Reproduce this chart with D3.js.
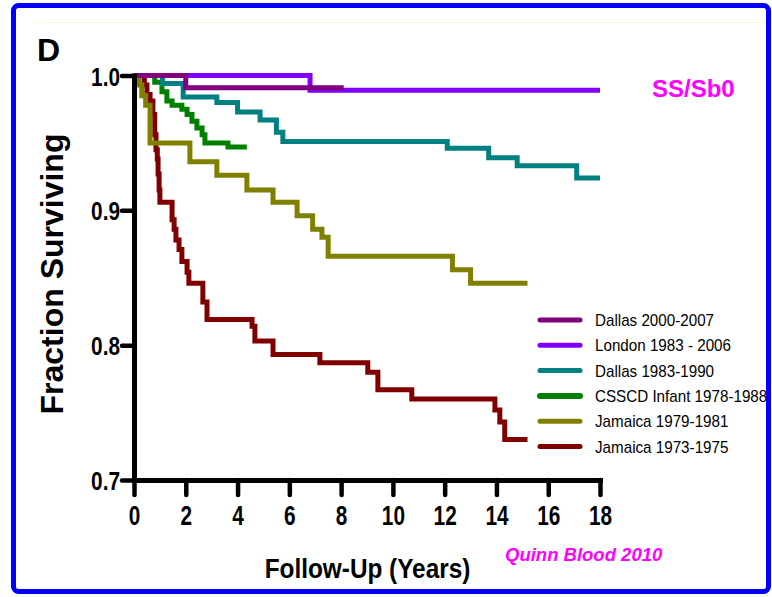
<!DOCTYPE html>
<html>
<head>
<meta charset="utf-8">
<script src="https://cdn.jsdelivr.net/npm/d3@7"></script>
<style>
  html, body { margin: 0; padding: 0; background: #fff; }
  svg { display: block; font-family: "Liberation Sans", Arial, sans-serif; }
</style>
</head>
<body>
<svg id="chart" width="772" height="597"></svg>
<script>
// ---- data (time in years, fraction surviving) ----
const xTickValues = [0, 2, 4, 6, 8, 10, 12, 14, 16, 18];
const yTickValues = [0.7, 0.8, 0.9, 1.0];

const dallas2000 = [[0, 1.0], [2.0, 0.991], [8.1, 0.991]];
const london = [[0, 1.0], [6.8, 0.989], [18, 0.989]];
const dallas1983 = [[0, 1.0], [1.1, 0.994], [1.9, 0.984], [3.2, 0.980], [4.0, 0.973], [4.87, 0.967],
  [5.5, 0.958], [5.75, 0.951], [12.1, 0.946], [13.7, 0.939], [14.8, 0.933], [17.1, 0.924], [18, 0.924]];
const csscd = [[0, 1.0], [0.8, 0.995], [1.08, 0.988], [1.27, 0.981], [1.47, 0.978], [1.85, 0.975],
  [2.05, 0.971], [2.24, 0.966], [2.43, 0.961], [2.63, 0.956], [2.74, 0.950], [3.63, 0.947], [4.36, 0.947]];
const jamaica79 = [[0, 1.0], [0.2, 0.993], [0.3, 0.985], [0.45, 0.978], [0.62, 0.950], [2.16, 0.936],
  [3.2, 0.926], [4.36, 0.915], [5.37, 0.906], [6.3, 0.896], [6.9, 0.886], [7.26, 0.880], [7.5, 0.866],
  [12.3, 0.856], [13.0, 0.846], [15.2, 0.846]];
const jamaica73 = [[0, 1.0], [0.4, 0.993], [0.5, 0.986], [0.62, 0.981], [0.73, 0.971], [0.8, 0.956],
  [0.85, 0.945], [0.9, 0.938], [0.93, 0.927], [0.97, 0.915], [1.0, 0.906], [1.47, 0.893], [1.55, 0.886],
  [1.62, 0.878], [1.74, 0.871], [1.85, 0.862], [2.05, 0.854], [2.12, 0.846], [2.66, 0.832], [2.82, 0.819],
  [4.56, 0.814], [4.67, 0.803], [5.37, 0.793], [7.18, 0.787], [9.03, 0.780], [9.42, 0.767], [10.73, 0.760],
  [13.94, 0.752], [14.13, 0.743], [14.32, 0.730], [15.2, 0.730]];

const seriesNames = ["Dallas 2000-2007", "London 1983 - 2006", "Dallas 1983-1990",
  "CSSCD Infant 1978-1988", "Jamaica 1979-1981", "Jamaica 1973-1975"];
const seriesColors = ["#800080", "#8000ff", "#008080", "#008000", "#808000", "#800000"];
const seriesData = [dallas2000, london, dallas1983, csscd, jamaica79, jamaica73];

// ---- drawing ----
const svg = d3.select("#chart");

// frame
svg.append("line").attr("x1", 35).attr("x2", 772).attr("y1", 22.5).attr("y2", 22.5)
  .attr("stroke", "#fbf6e2").attr("stroke-width", 1);
svg.append("rect").attr("x", 13.5).attr("y", 5.5).attr("width", 755).attr("height", 586)
  .attr("rx", 5).attr("fill", "none").attr("stroke", "#0000ff").attr("stroke-width", 5);

const x = d3.scaleLinear().domain([0, 18]).range([134, 600]);
const y = d3.scaleLinear().domain([0.7, 1.0]).range([480, 75.5]);

// curves (drawn bottom-most first)
const line = d3.line().x(d => x(d[0])).y(d => y(d[1])).curve(d3.curveStepAfter);
const order = [5, 4, 3, 2, 1, 0];
order.forEach(i => {
  svg.append("path").datum(seriesData[i])
    .attr("d", line)
    .attr("fill", "none")
    .attr("stroke", seriesColors[i])
    .attr("stroke-width", 5)
    .attr("stroke-linejoin", "miter");
});

// x axis
const xAxis = svg.append("g").attr("transform", "translate(0,480)")
  .call(d3.axisBottom(x).tickValues(xTickValues).tickSize(15).tickSizeOuter(0).tickFormat(d3.format("d")));
xAxis.select(".domain").attr("stroke", "#000").attr("stroke-width", 5).attr("stroke-linecap", "square");
xAxis.selectAll(".tick line").attr("stroke", "#000").attr("stroke-width", 4.5).attr("stroke-linecap", "round");
xAxis.selectAll(".tick text")
  .attr("y", 45).attr("dy", 0)
  .attr("fill", "#000")
  .style("font-size", "27px").style("font-weight", "bold")
  .attr("transform", "scale(0.77,1)");

// y axis
const yAxis = svg.append("g").attr("transform", "translate(134,0)")
  .call(d3.axisLeft(y).tickValues(yTickValues).tickSize(12).tickSizeOuter(0).tickFormat(d3.format(".1f")));
yAxis.select(".domain").attr("stroke", "#000").attr("stroke-width", 5).attr("stroke-linecap", "square");
yAxis.selectAll(".tick line").attr("stroke", "#000").attr("stroke-width", 4.5).attr("stroke-linecap", "round");
yAxis.selectAll(".tick text")
  .attr("x", -17.5).attr("y", 9.5).attr("dy", 0)
  .attr("fill", "#000")
  .style("font-size", "26px").style("font-weight", "bold")
  .attr("transform", "scale(0.8,1)");

// titles
svg.append("text").attr("x", 37).attr("y", 61).text("D")
  .style("font-size", "32px").style("font-weight", "bold").attr("fill", "#000");

svg.append("text").attr("transform", "translate(63,274) rotate(-90)")
  .attr("text-anchor", "middle").text("Fraction Surviving")
  .style("font-size", "32px").style("font-weight", "bold").attr("fill", "#000");

svg.append("text").attr("transform", "translate(367.5,578) scale(0.87,1)")
  .attr("text-anchor", "middle").text("Follow-Up (Years)")
  .style("font-size", "28px").style("font-weight", "bold").attr("fill", "#000");

svg.append("text").attr("x", 652).attr("y", 97).text("SS/Sb0")
  .style("font-size", "24px").style("font-weight", "bold").attr("fill", "#ff00ff");

svg.append("text").attr("x", 505).attr("y", 561).text("Quinn Blood 2010")
  .style("font-size", "18.5px").style("font-weight", "bold").style("font-style", "italic")
  .attr("fill", "#ff00ff");

// legend
const legend = svg.append("g");
seriesNames.forEach((name, i) => {
  const ly = 320 + i * 25.3;
  legend.append("line").attr("x1", 540).attr("x2", 580).attr("y1", ly).attr("y2", ly)
    .attr("stroke", seriesColors[i]).attr("stroke-width", i === 3 ? 6 : 5)
    .attr("stroke-linecap", "round");
  legend.append("text").attr("transform", `translate(595,${ly + 6}) scale(0.95,1)`)
    .text(name).style("font-size", "16px").attr("fill", "#000");
});
</script>
</body>
</html>
